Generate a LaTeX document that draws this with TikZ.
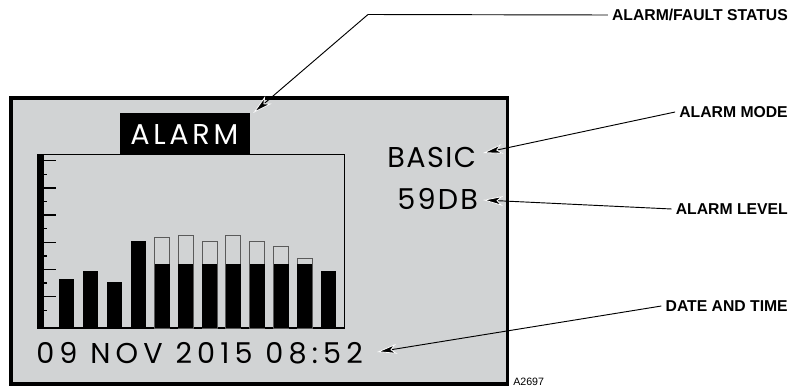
\documentclass[tikz,border=0pt]{standalone}
\usepackage{fontspec}
\setmainfont{Liberation Sans}
\newfontfamily\lcdfont{Poppins}
\usetikzlibrary{arrows.meta}
\definecolor{lcdgray}{RGB}{209,211,212}
\definecolor{ghostbar}{RGB}{90,90,90}

\begin{document}
\begin{tikzpicture}[x=0.75pt, y=-0.75pt,
    callout/.style={draw=black, line width=0.7pt,
        -{Stealth[length=15pt, width=7.5pt, inset=4pt, color=white, fill=black, line width=0.6pt]}},
    calllabel/.style={anchor=east, inner xsep=3pt, inner ysep=0pt,
        font=\fontsize{11.8}{13}\selectfont\bfseries},
    lcdtext/.style={inner sep=0pt, font=\lcdfont\fontsize{21.5}{24}\selectfont}]
    \useasboundingbox (0,0) rectangle (797,389);

    % Display frame
    \draw[line width=2.5pt, fill=lcdgray] (11,98) rectangle (507.5,384);

    % Header
    \node[fill=black, inner sep=0pt, anchor=north west,
          minimum width=97.5pt, minimum height=30.75pt] (alarm) at (120,113) {};
    \node[lcdtext, text=white, anchor=base west] (alarmtext) at (130,144)
        {\addfontfeatures{LetterSpace=13}ALARM};

    % Graph box and axis
    \draw[line width=0.8pt] (38,154.5) rectangle (344.5,328);
    \fill (38,154.5) rectangle (43.5,328);
    \foreach \k in {0,...,11} {
        \pgfmathsetmacro{\ty}{160.7+13.6*\k}
        \ifodd\k
            \draw[line width=1.1pt] (43,\ty) -- (47,\ty);
        \else
            \draw[line width=1.1pt] (43,\ty) -- (56,\ty);
        \fi
    }

    % Peak levels (outlines)
    \foreach \i/\top in {5/237.7, 6/235.3, 7/241.7, 8/235.3, 9/241.7, 10/246.7, 11/258.3} {
        \draw[ghostbar, line width=0.8pt] ({59.3+23.8*(\i-1)},328) rectangle ({74.3+23.8*(\i-1)},\top);
    }
    % Average levels (solid bars)
    \foreach \i/\top in {1/279, 2/271, 3/282, 4/241, 5/264.3, 6/264.3, 7/264.3,
                         8/264.3, 9/264.3, 10/264.3, 11/264.3, 12/271} {
        \fill ({59.3+23.8*(\i-1)},328) rectangle ({74.3+23.8*(\i-1)},\top);
    }

    % Readouts
    \node[lcdtext, anchor=base west] (mode) at (387,167)
        {\addfontfeatures{LetterSpace=5}BASIC};
    \node[lcdtext, anchor=base west] (level) at (397,209)
        {\addfontfeatures{LetterSpace=8}59DB};
    \node[lcdtext, anchor=base west] (datetime) at (36,363)
        {\addfontfeatures{LetterSpace=18}09 NOV 2015 08:52};

    % Callout labels
    \node[calllabel] (statuslbl) at (792,15) {ALARM/FAULT STATUS};
    \node[calllabel] (modelbl) at (792,112) {ALARM MODE};
    \node[calllabel] (levellbl) at (792,209) {ALARM LEVEL};
    \node[calllabel] (datelbl) at (792,306) {DATE AND TIME};
    \coordinate (elbow) at (368,14.5);

    % Callout arrows
    \draw[callout] (statuslbl.west) -- (elbow) -- ([xshift=2pt]alarm.north east);
    \draw[callout] (modelbl.west) -- (483,153);
    \draw[callout] (levellbl.west) -- (483,200);
    \draw[callout] (datelbl.west) -- (377,352);

    \node[anchor=base west, inner sep=0pt, font=\fontsize{8}{9}\selectfont] (artno) at (513,385) {A2697};
\end{tikzpicture}
\end{document}
